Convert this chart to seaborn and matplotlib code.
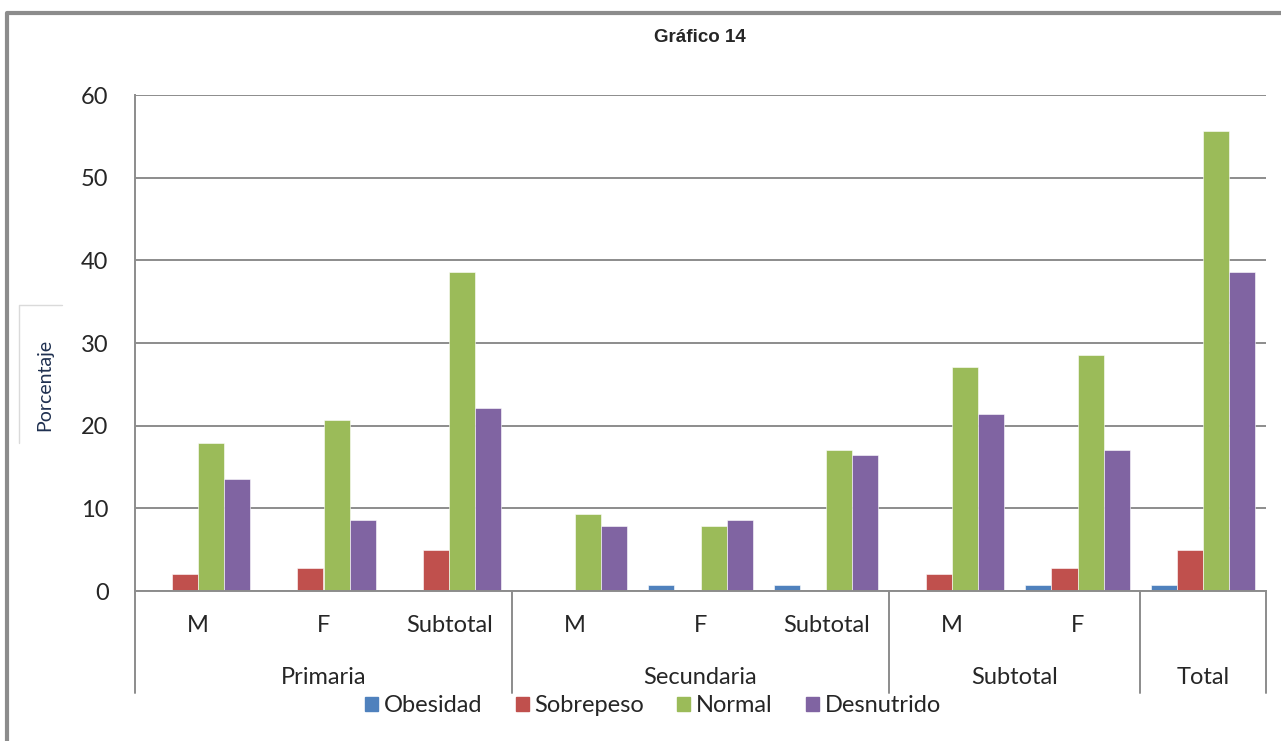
import matplotlib
matplotlib.use("Agg")
import matplotlib.pyplot as plt
import matplotlib.transforms as mtransforms
from matplotlib.lines import Line2D
import pandas as pd
import seaborn as sns

# data (percent)
niveles = ["Primaria", "Primaria", "Primaria", "Secundaria", "Secundaria", "Secundaria",
           "Subtotal", "Subtotal", "Total"]
sexo = ["M", "F", "Subtotal", "M", "F", "Subtotal", "M", "F", ""]
obesidad = [0, 0, 0, 0, 0.7, 0.7, 0, 0.7, 0.7]
sobrepeso = [2.1, 2.8, 5.0, 0, 0, 0, 2.1, 2.8, 5.0]
normal = [17.9, 20.7, 38.6, 9.3, 7.9, 17.1, 27.1, 28.6, 55.7]
desnutrido = [13.5, 8.6, 22.1, 7.9, 8.6, 16.4, 21.4, 17.1, 38.6]

grupos = ["Primaria", "Secundaria", "Subtotal", "Total"]
series = ["Obesidad", "Sobrepeso", "Normal", "Desnutrido"]
colores = ["#4F81BD", "#C0504D", "#9BBB59", "#8064A2"]

cats = [f"{n}-{s}" for n, s in zip(niveles, sexo)]
rows = []
for name, vals in zip(series, [obesidad, sobrepeso, normal, desnutrido]):
    for c, v in zip(cats, vals):
        rows.append({"cat": c, "serie": name, "valor": v})
df = pd.DataFrame(rows)

sns.set_theme(style="white")
plt.rcParams["font.family"] = ["Lato", "DejaVu Sans"]

W, H = 1281, 741
fig = plt.figure(figsize=(W / 100, H / 100), dpi=100)
L, R, T, B = 135, 1266, 95, 591
ax = fig.add_axes([L / W, 1 - B / H, (R - L) / W, (B - T) / H])

sns.barplot(data=df, x="cat", y="valor", hue="serie", order=cats,
            hue_order=series, palette=colores, width=0.83, ax=ax,
            edgecolor="white", linewidth=0.4, saturation=1, legend=False)

ax.set_ylim(0, 60)
ax.set_xlim(-0.5, len(cats) - 0.5)
ax.set_yticks(range(0, 61, 10))
ax.yaxis.grid(True, color="#8C8C8C", linewidth=1.4)
ax.set_axisbelow(True)
for side in ["top", "right"]:
    ax.spines[side].set_visible(False)
for side in ["left", "bottom"]:
    ax.spines[side].set_color("#8C8C8C")
    ax.spines[side].set_linewidth(1.4)
ax.tick_params(axis="y", length=0, pad=19, labelsize=17)
ax.tick_params(axis="x", length=0)
ax.set_xticks([])
ax.set_xlabel("")
ax.set_ylabel("")

# multi-level category axis
trans = mtransforms.blended_transform_factory(ax.transData, ax.transAxes)
px = 1 / (B - T)
for i, s in enumerate(sexo):
    if s:
        ax.text(i, -34 * px, s, transform=trans, ha="center", va="center", fontsize=17)
bounds = [-0.5]
for g in grupos:
    idx = [i for i, n in enumerate(niveles) if n == g]
    ax.text((idx[0] + idx[-1]) / 2, -86 * px, g, transform=trans,
            ha="center", va="center", fontsize=17)
    bounds.append(idx[-1] + 0.5)
for b in bounds:
    ax.add_line(Line2D([b, b], [0, -102 * px], transform=trans, color="#8C8C8C",
                       linewidth=1.4, clip_on=False))

# title and axis label
fig.text(700 / W, 1 - 38 / H, "Gráfico 14", ha="center", va="center",
         fontsize=13.5, fontweight="bold", family=["Liberation Sans", "DejaVu Sans"])
fig.text(45 / W, 1 - 385 / H, "Porcentaje", rotation=90, ha="center", va="center",
         fontsize=14, color="#1F3050")
fig.add_artist(Line2D([19 / W, 19 / W, 62 / W], [1 - 443 / H, 1 - 305 / H, 1 - 305 / H],
                      transform=fig.transFigure, color="#DADADA", linewidth=1))

# outer frame (left and top)
fig.add_artist(Line2D([7 / W, 7 / W, 1], [0, 1 - 13 / H, 1 - 13 / H],
                      transform=fig.transFigure, color="#8C8C8C", linewidth=3))

# legend
handles = [plt.Rectangle((0, 0), 1, 1, color=c) for c in colores]
fig.legend(handles, series, loc="center", bbox_to_anchor=(653 / W, 1 - 706 / H),
           ncol=4, frameon=False, fontsize=17, handlelength=0.55, handleheight=0.55,
           handletextpad=0.25, columnspacing=1.4)

fig.savefig("out.png", dpi=100, facecolor="white")
